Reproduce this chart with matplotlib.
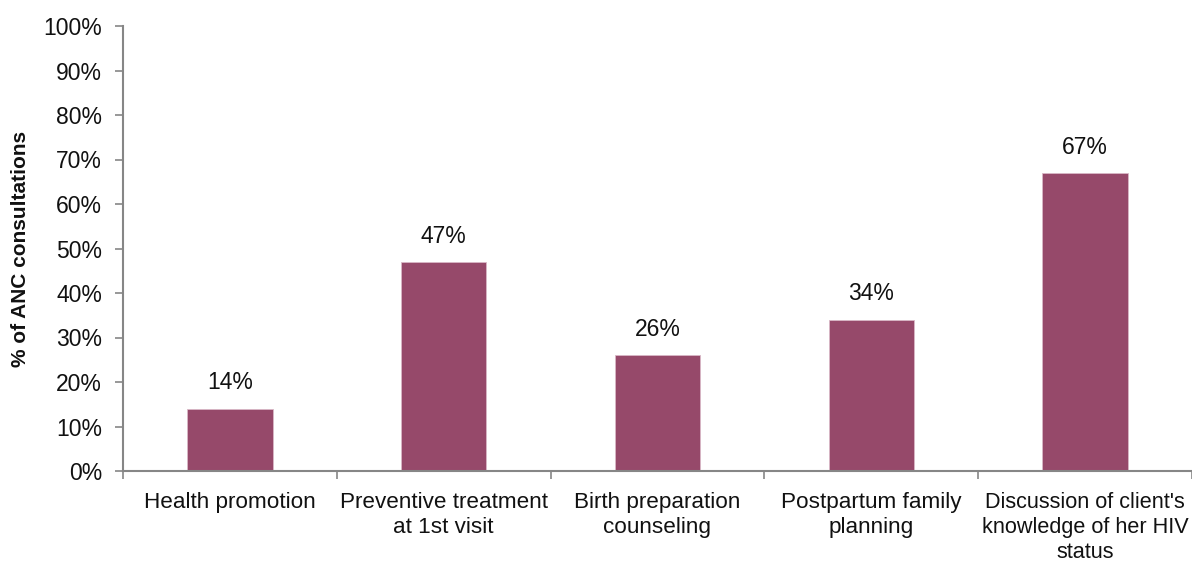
import matplotlib
matplotlib.use("Agg")
import matplotlib.pyplot as plt
from matplotlib.ticker import FixedLocator

categories = [
    "Health promotion",
    "Preventive treatment\nat 1st visit",
    "Birth preparation\ncounseling",
    "Postpartum family\nplanning",
    "Discussion of client's\nknowledge of her HIV\nstatus",
]
values = [14, 47, 26, 34, 67]
yticks = list(range(0, 101, 10))

plt.rcParams["font.family"] = ["Liberation Sans", "DejaVu Sans"]

fig = plt.figure(figsize=(11.92, 5.62), dpi=100)
ax = fig.add_axes([123 / 1192, 1 - 471 / 562, 1 - 123 / 1192, (471 - 26) / 562])

x = list(range(len(categories)))
bar_color = "#96496A"
ax.bar(x, values, width=0.4, color=bar_color, edgecolor="#d9b8c6", linewidth=0.6, zorder=2)

for xi, v in zip(x, values):
    ax.text(xi, v + 3.2, f"{v}%", ha="center", va="bottom", fontsize=16.5, color="#111111")

ax.set_xlim(-0.5, len(categories) - 0.5)
ax.set_ylim(0, 100)
ax.set_yticks(yticks)
ax.set_yticklabels([f"{t}%" for t in yticks], fontsize=16.5, color="#111111")

ax.set_xticks(x)
ax.set_xticklabels(categories, fontsize=16.2, color="#111111", linespacing=1.24)
ax.get_xticklabels()[-1].set_fontsize(15.6)
ax.tick_params(axis="x", length=0, pad=15)
ax.xaxis.set_minor_locator(FixedLocator([i - 0.5 for i in range(len(categories) + 1)]))
ax.tick_params(axis="x", which="minor", length=6, color="#868686", width=1.2)
ax.tick_params(axis="y", length=6, color="#868686", width=1.2, pad=9)

for side in ["top", "right"]:
    ax.spines[side].set_visible(False)
for side in ["left", "bottom"]:
    ax.spines[side].set_color("#868686")
    ax.spines[side].set_linewidth(1.5)

ax.set_ylabel("% of ANC consultations", fontsize=15, fontweight="bold", color="#111111", labelpad=10)

fig.savefig("out.png", dpi=100)
